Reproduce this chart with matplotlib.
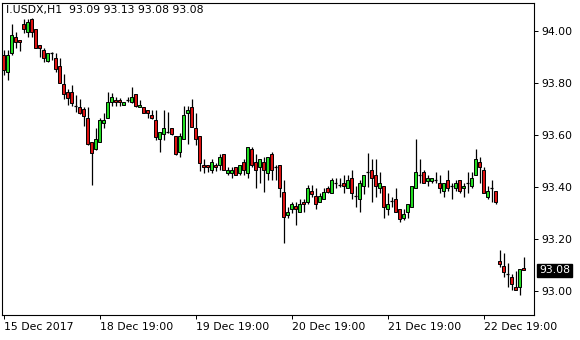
import matplotlib
matplotlib.use("Agg")
import matplotlib.pyplot as plt
from matplotlib.transforms import blended_transform_factory

symbol = "I.USDX,H1"
last_ohlc = [93.09, 93.13, 93.08, 93.08]

opens = [93.908, 93.842, 93.915, 93.977, 93.965, 94.027, 93.996, 94.046, 94.008, 93.946,
         93.927, 93.885, 93.915, 93.896, 93.865, 93.796, 93.765, 93.765, 93.712, 93.708,
         93.700, 93.665, 93.573, 93.546, 93.573, 93.646, 93.665, 93.727, 93.735, 93.735,
         93.715, 93.735, 93.727, 93.758, 93.708, 93.708, 93.696, 93.677, 93.658, 93.585,
         93.604, 93.612, 93.627, 93.596, 93.535, 93.585, 93.685, 93.708, 93.627, 93.596,
         93.485, 93.485, 93.465, 93.485, 93.485, 93.527, 93.454, 93.454, 93.477, 93.454,
         93.496, 93.454, 93.546, 93.496, 93.477, 93.496, 93.454, 93.527, 93.477, 93.485,
         93.381, 93.292, 93.315, 93.327, 93.304, 93.342, 93.342, 93.385, 93.365, 93.342,
         93.354, 93.396, 93.377, 93.415, 93.408, 93.415, 93.396, 93.435, 93.365, 93.354,
         93.404, 93.458, 93.465, 93.446, 93.396, 93.404, 93.315, 93.346, 93.354, 93.315,
         93.281, 93.304, 93.323, 93.396, 93.446, 93.458, 93.423, 93.423, 93.427, 93.415,
         93.385, 93.427, 93.404, 93.396, 93.427, 93.396, 93.415, 93.404, 93.446, 93.496,
         93.465, 93.362, 93.396, 93.385, 93.115, 93.096, 93.065, 93.054, 93.015, 93.015,
         93.090]
highs = [93.927, 93.927, 94.027, 93.996, 93.965, 94.046, 94.046, 94.050, 94.008, 93.946,
         93.935, 93.915, 93.919, 93.915, 93.896, 93.835, 93.777, 93.792, 93.754, 93.738,
         93.708, 93.708, 93.573, 93.627, 93.665, 93.685, 93.765, 93.762, 93.746, 93.742,
         93.727, 93.746, 93.785, 93.758, 93.735, 93.708, 93.696, 93.696, 93.696, 93.612,
         93.696, 93.688, 93.627, 93.596, 93.608, 93.712, 93.712, 93.738, 93.685, 93.596,
         93.508, 93.485, 93.508, 93.492, 93.527, 93.527, 93.477, 93.477, 93.477, 93.485,
         93.508, 93.554, 93.554, 93.527, 93.508, 93.515, 93.515, 93.535, 93.485, 93.485,
         93.427, 93.323, 93.342, 93.342, 93.354, 93.354, 93.408, 93.408, 93.396, 93.377,
         93.396, 93.404, 93.435, 93.435, 93.435, 93.446, 93.446, 93.465, 93.404, 93.427,
         93.446, 93.531, 93.508, 93.508, 93.458, 93.404, 93.377, 93.362, 93.396, 93.315,
         93.315, 93.335, 93.404, 93.585, 93.508, 93.465, 93.446, 93.435, 93.458, 93.446,
         93.415, 93.465, 93.415, 93.427, 93.427, 93.415, 93.458, 93.458, 93.546, 93.515,
         93.477, 93.404, 93.427, 93.385, 93.158, 93.146, 93.108, 93.065, 93.077, 93.085,
         93.130]
lows = [93.831, 93.812, 93.908, 93.935, 93.923, 93.992, 93.977, 93.977, 93.935, 93.900,
        93.881, 93.881, 93.888, 93.842, 93.800, 93.738, 93.715, 93.712, 93.688, 93.681,
        93.635, 93.562, 93.408, 93.542, 93.573, 93.627, 93.665, 93.712, 93.712, 93.712,
        93.715, 93.727, 93.723, 93.708, 93.708, 93.685, 93.665, 93.662, 93.581, 93.535,
        93.581, 93.608, 93.600, 93.523, 93.515, 93.585, 93.565, 93.631, 93.562, 93.462,
        93.454, 93.458, 93.454, 93.462, 93.465, 93.465, 93.446, 93.435, 93.446, 93.446,
        93.446, 93.435, 93.477, 93.396, 93.415, 93.381, 93.427, 93.427, 93.427, 93.362,
        93.185, 93.281, 93.300, 93.254, 93.304, 93.304, 93.335, 93.362, 93.315, 93.342,
        93.354, 93.377, 93.377, 93.396, 93.400, 93.377, 93.396, 93.354, 93.323, 93.304,
        93.373, 93.400, 93.342, 93.362, 93.377, 93.281, 93.292, 93.323, 93.304, 93.265,
        93.273, 93.281, 93.323, 93.396, 93.415, 93.415, 93.404, 93.415, 93.415, 93.377,
        93.362, 93.385, 93.354, 93.385, 93.377, 93.362, 93.377, 93.396, 93.446, 93.415,
        93.377, 93.354, 93.342, 93.335, 93.092, 93.054, 93.015, 93.004, 93.004, 92.985,
        93.080]
closes = [93.850, 93.908, 93.985, 93.958, 93.958, 94.008, 94.035, 93.996, 93.935, 93.935,
          93.896, 93.915, 93.915, 93.854, 93.800, 93.758, 93.742, 93.723, 93.712, 93.685,
          93.673, 93.565, 93.531, 93.585, 93.658, 93.658, 93.727, 93.746, 93.727, 93.727,
          93.727, 93.735, 93.746, 93.712, 93.715, 93.685, 93.685, 93.665, 93.592, 93.612,
          93.627, 93.612, 93.604, 93.527, 93.596, 93.677, 93.696, 93.631, 93.585, 93.492,
          93.477, 93.477, 93.496, 93.477, 93.515, 93.465, 93.465, 93.465, 93.446, 93.485,
          93.465, 93.554, 93.485, 93.465, 93.508, 93.465, 93.515, 93.465, 93.477, 93.396,
          93.285, 93.304, 93.335, 93.315, 93.335, 93.335, 93.396, 93.373, 93.335, 93.365,
          93.381, 93.381, 93.427, 93.415, 93.408, 93.404, 93.427, 93.377, 93.365, 93.415,
          93.446, 93.458, 93.435, 93.404, 93.415, 93.323, 93.335, 93.346, 93.304, 93.277,
          93.296, 93.335, 93.404, 93.458, 93.446, 93.415, 93.435, 93.435, 93.427, 93.396,
          93.415, 93.396, 93.404, 93.415, 93.385, 93.404, 93.415, 93.435, 93.508, 93.477,
          93.377, 93.385, 93.396, 93.342, 93.104, 93.073, 93.065, 93.027, 93.004, 93.085,
          93.080]

x_tick_bars = [0, 24, 48, 72, 96, 120]
x_tick_labels = ["15 Dec 2017", "18 Dec 19:00", "19 Dec 19:00",
                 "20 Dec 19:00", "21 Dec 19:00", "22 Dec 19:00"]
y_ticks = [93.00, 93.20, 93.40, 93.60, 93.80, 94.00]

BULL = "#22dd22"
BEAR = "#dd1111"
FS = 7.8

W, H = 580, 340
fig = plt.figure(figsize=(W / 100, H / 100), dpi=100)
fig.patch.set_facecolor("white")
ax = fig.add_axes([2 / W, 25 / H, 532 / W, 312 / H])

for i, (o, h, l, c) in enumerate(zip(opens, highs, lows, closes)):
    ax.vlines(i, l, h, color="black", lw=0.9, zorder=2)
    if abs(c - o) < 1e-9:
        ax.hlines(o, i - 0.4, i + 0.4, color="black", lw=0.9, zorder=3)
    else:
        ax.bar(i, abs(c - o), bottom=min(o, c), width=0.65,
               color=BULL if c > o else BEAR, edgecolor="black",
               linewidth=0.7, zorder=3)

ax.set_xlim(-0.375, 132.625)
ax.set_ylim(92.9077, 94.1077)

ax.set_xticks(x_tick_bars)
ax.set_xticklabels(x_tick_labels, ha="left", fontsize=FS)
ax.yaxis.tick_right()
ax.set_yticks(y_ticks)
ax.set_yticklabels([f"{v:.2f}" for v in y_ticks], fontsize=FS)
ax.tick_params(axis="both", direction="out", length=3, width=0.72,
               color="black", labelcolor="black")
ax.tick_params(axis="x", pad=2)
ax.tick_params(axis="y", pad=2)
for s in ax.spines.values():
    s.set_color("black")
    s.set_linewidth(0.8)

trans = blended_transform_factory(ax.transAxes, ax.transData)
ax.text(1.0 + 5 / 532, closes[-1], f"{closes[-1]:.2f}", transform=trans,
        color="white", fontsize=FS, va="center", ha="left", clip_on=False,
        bbox=dict(boxstyle="square,pad=0.15", fc="black", ec="black"))

title = symbol + "  " + " ".join(f"{v:.2f}" for v in last_ohlc)
fig.text(6 / W, 1 - 10 / H, title, fontsize=FS, va="center", ha="left",
         color="black")

fig.savefig("out.png", dpi=100, facecolor="white")
